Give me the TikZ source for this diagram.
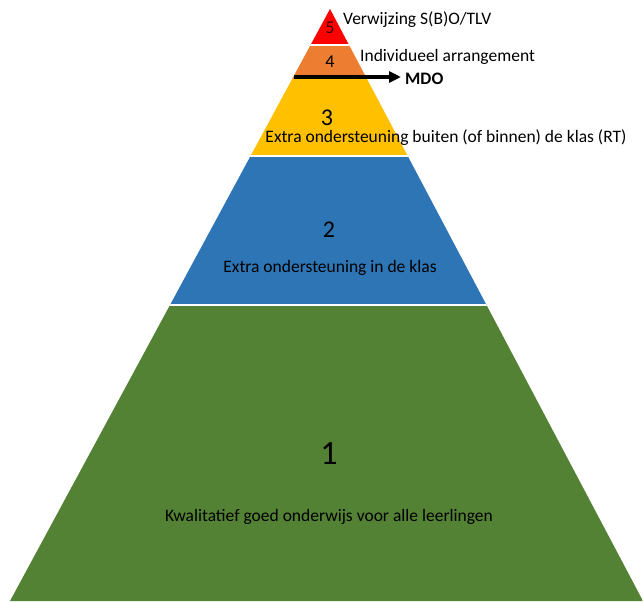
\documentclass[tikz,border=0pt]{standalone}
\usepackage{fontspec}
\setmainfont{Carlito}
\usetikzlibrary{calc,arrows.meta}

\definecolor{lvlred}{HTML}{FF0000}
\definecolor{lvlorange}{HTML}{ED7D31}
\definecolor{lvlyellow}{HTML}{FFC000}
\definecolor{lvlblue}{HTML}{2E75B6}
\definecolor{lvlgreen}{HTML}{548235}

\tikzset{
  nummer/.style={font=\fontsize{24}{24}\selectfont, inner sep=0pt},
  uitleg/.style={font=\fontsize{17.5}{18}\selectfont, inner sep=0pt},
  klein/.style={font=\fontsize{18}{18}\selectfont, inner sep=0pt},
  gap/.style={white, line width=2pt}
}

\begin{document}
\begin{tikzpicture}[x=1pt, y=-1pt]
        \useasboundingbox (0,0) rectangle (643,602);

        \coordinate (apex) at (330,9);
        \coordinate (bl) at (10,601);
        \coordinate (br) at (643,601);

        % lagen
        \begin{scope}
            \clip (apex) -- (br) -- (bl) -- cycle;
            \fill[lvlred]    (0,0)   rectangle (643,45);
            \fill[lvlorange] (0,45)  rectangle (643,79);
            \fill[lvlyellow] (0,79)  rectangle (643,156);
            \fill[lvlblue]   (0,156) rectangle (643,304.5);
            \fill[lvlgreen]  (0,304.5) rectangle (643,602);
            \draw[gap] (0,45) -- (643,45);
            \draw[gap] (0,156) -- (643,156);
            \draw[gap] (0,304.5) -- (643,304.5);
        \end{scope}

        \node[klein] (n5) at (330,28) {\color{black!75!red}5};
        \node[klein] (n4) at (330,62) {4};
        \node[nummer] (n3) at (327,118) {3};
        \node[nummer] (n2) at (329,230) {2};
        \node[nummer, font=\fontsize{34}{34}\selectfont] (n1) at (329,454) {1};

        \node[uitleg, anchor=west] (t5) at (343,20) {Verwijzing S(B)O/TLV};
        \node[uitleg, anchor=west] (t4) at (360,57) {Individueel arrangement};
        \node[uitleg] (t3) at (446,138) {Extra ondersteuning buiten (of binnen) de klas (RT)};
        \node[uitleg] (t2) at (330,268) {Extra ondersteuning in de klas};
        \node[uitleg] (t1) at (329,517) {Kwalitatief goed onderwijs voor alle leerlingen};

        \node[uitleg, anchor=west, font=\fontsize{17.5}{18}\selectfont\bfseries] (mdo) at (405,79) {MDO};
        \coordinate (mdostart) at (294,77);
        \draw[line width=4pt, -{Triangle[length=12pt, width=11pt]}] (mdostart) -- ([xshift=-4pt]mdostart -| mdo.west);

    \end{tikzpicture}
\end{document}
